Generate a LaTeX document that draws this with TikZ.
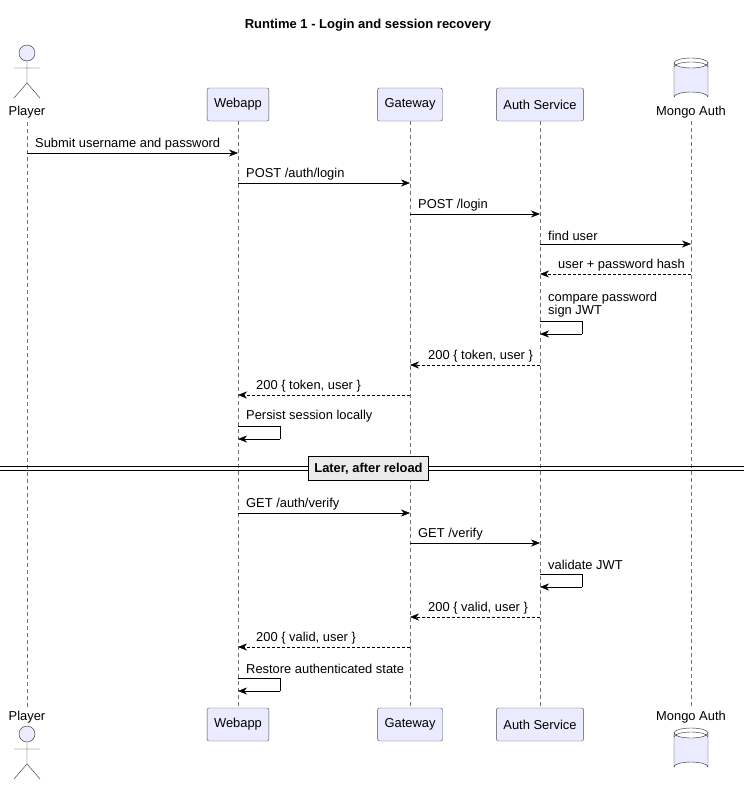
\documentclass[tikz,border=0pt]{standalone}
\usepackage{fontspec}
\setmainfont{Liberation Sans}
\usetikzlibrary{arrows.meta,shapes.geometric}
\tikzset{
  part/.style={draw=black!70, fill=blue!8!white, rounded corners=2pt, minimum height=33pt, inner xsep=7pt},
  life/.style={draw=black!55, dashed, dash pattern=on 4pt off 3pt},
  msg/.style={-{Stealth[length=9pt,width=7pt]}, black},
  ret/.style={msg, dash pattern=on 3pt off 2pt},
  txt/.style={anchor=south west, inner sep=1pt, font=\fontsize{12.9}{14}\selectfont},
}
\newcommand{\callR}[4]{% from to y text
  \draw[msg] (#1 |- 0,#3) -- (#2 |- 0,#3);
  \path (#1 |- 0,#3) ++(7,-2) node[txt] {#4};}
\newcommand{\callL}[4]{%
  \draw[ret] (#1 |- 0,#3) -- (#2 |- 0,#3);
  \path (#2 |- 0,#3) ++(17,-2) node[txt] {#4};}
\newcommand{\selfcall}[3]{% who y text
  \draw[black] (#1 |- 0,#2) -- ++(42,0) -- ++(0,13);
  \draw[msg] ([xshift=42]#1 |- 0,#2+13) -- (#1 |- 0,#2+13);
  \path (#1 |- 0,#2) ++(7,-3) node[txt, align=left] {#3};}
\begin{document}
\begin{tikzpicture}[x=1pt,y=-1pt, font=\fontsize{12.9}{14}\selectfont]
\useasboundingbox (0,0) rectangle (744,790);
\node[font=\bfseries\fontsize{13}{14}\selectfont] (title) at (368,25) {Runtime 1 - Login and session recovery};
% lifeline positions
\coordinate (pl) at (27,0);
\coordinate (wa) at (238,0);
\coordinate (gw) at (410,0);
\coordinate (as) at (540,0);
\coordinate (mg) at (691,0);
% lifelines
\draw[life] (27,122) -- (27,708);
\foreach \p in {wa,gw,as,mg} \draw[life] (\p |- 0,121) -- (\p |- 0,708);
% participants top
\node[part] (waT) at (238,104.5) {Webapp};
\node[part] (gwT) at (410,104.5) {Gateway};
\node[part] (asT) at (540,104.5) {Auth Service};
\node[part] (waB) at (238,724.5) {Webapp};
\node[part] (gwB) at (410,724.5) {Gateway};
\node[part] (asB) at (540,724.5) {Auth Service};
% actor
\foreach \y/\n in {53/plT,734/plB}{
  \draw[black!85, fill=blue!8!white] (27,\y) circle (8);
  \draw[black!85] (27,\y+8) -- (27,\y+30) (14,\y+15) -- (40,\y+15)
     (27,\y+30) -- (14,\y+45) (27,\y+30) -- (40,\y+45);
}
\node (plTl) at (27,112) {Player};
\node (plBl) at (27,717) {Player};
% database
\foreach \y in {58,728}{
  \draw[black!85, fill=blue!8!white] (674,\y+5) -- (674,\y+39) arc[start angle=180,end angle=360,x radius=17,y radius=5] -- (708,\y+5) arc[start angle=0,end angle=180,x radius=17,y radius=5];
  \draw[black!85] (674,\y+5) arc[start angle=180,end angle=360,x radius=17,y radius=5];
  \draw[black!85] (674,\y+9) arc[start angle=180,end angle=360,x radius=17,y radius=5];
}
\node (mgTl) at (691,112) {Mongo Auth};
\node (mgBl) at (691,717) {Mongo Auth};
% messages
\callR{pl}{wa}{153}{Submit username and password}
\callR{wa}{gw}{183}{POST /auth/login}
\callR{gw}{as}{214}{POST /login}
\callR{as}{mg}{244}{find user}
\callL{mg}{as}{274}{user + password hash}
\selfcall{as}{321}{compare password\\[-1pt]sign JWT}
\callL{as}{gw}{365}{200 \{ token, user \}}
\callL{gw}{wa}{395}{200 \{ token, user \}}
\selfcall{wa}{426}{Persist session locally}
% divider
\draw[black] (0,466.5) -- (744,466.5) (0,470) -- (744,470);
\node[draw=black, line width=1.2pt, fill=black!8, font=\bfseries\fontsize{12.9}{14}\selectfont, minimum height=24pt, inner xsep=6pt] (later) at (368.5,468.5) {Later, after reload};
\callR{wa}{gw}{513}{GET /auth/verify}
\callR{gw}{as}{543}{GET /verify}
\selfcall{as}{574}{validate JWT}
\callL{as}{gw}{617}{200 \{ valid, user \}}
\callL{gw}{wa}{647}{200 \{ valid, user \}}
\selfcall{wa}{678}{Restore authenticated state}
\end{tikzpicture}
\end{document}
